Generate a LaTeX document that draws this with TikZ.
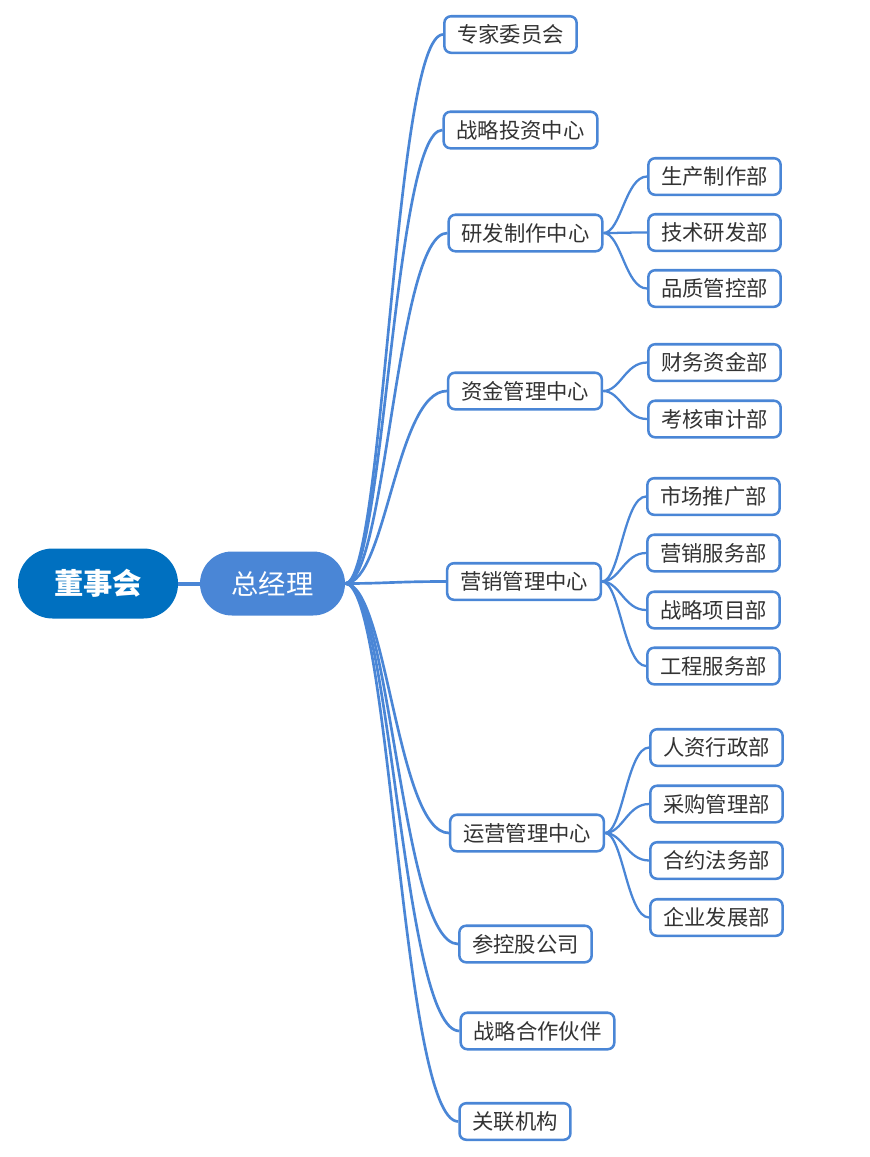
\documentclass[tikz,border=0pt]{standalone}
\usepackage{fontspec}
\newfontfamily\cn{Noto Sans CJK SC}
\usetikzlibrary{calc}
\definecolor{xanh}{HTML}{4A86D6}
\definecolor{xanhdam}{HTML}{0070C0}
\definecolor{chu}{HTML}{333333}
\tikzset{
	hop/.style={draw=xanh, line width=1.9pt, rounded corners=5pt, fill=white, text=chu,
		font=\cn\fontsize{16}{19}\selectfont, minimum height=27.4pt, inner xsep=9.6pt, inner ysep=0pt},
	nhanh/.style={draw=xanh, line width=2pt},
	la/.style={draw=xanh, line width=1.7pt}
}
\begin{document}
\begin{tikzpicture}[x=.75pt, y=-.75pt]
	\useasboundingbox (0,0) rectangle (870,1157);
	% goc
	\node[fill=xanhdam, text=white, rounded corners=26pt, minimum width=120pt, minimum height=52.5pt,
		font=\cn\bfseries\fontsize{22}{24}\selectfont] (dsh) at (98,583.5) {董事会};
	\node[fill=xanh, text=white, rounded corners=24pt, minimum width=108.75pt, minimum height=48pt,
		font=\cn\fontsize{20.5}{24}\selectfont] (zjl) at (272.5,583.5) {总经理};
	\draw[xanh, line width=3pt] (dsh.east)--(zjl.west);
	% cap 2
	\node[hop] (zj) at (510.5,34.5) {专家委员会};
	\node[hop] (tz) at (520.5,130) {战略投资中心};
	\node[hop] (yf) at (525.5,233) {研发制作中心};
	\node[hop] (zjin) at (525,391) {资金管理中心};
	\node[hop] (yx) at (524,581.5) {营销管理中心};
	\node[hop] (yy) at (527,833) {运营管理中心};
	\node[hop] (ck) at (525.5,944) {参控股公司};
	\node[hop] (hz) at (537.5,1031) {战略合作伙伴};
	\node[hop] (gl) at (515,1121.5) {关联机构};
	% cap 3
	\node[hop] (sc) at (714.5,176.5) {生产制作部};
	\node[hop] (js) at (714.5,232.5) {技术研发部};
	\node[hop] (pz) at (714.5,288.5) {品质管控部};
	\node[hop] (cw) at (714.5,362.5) {财务资金部};
	\node[hop] (kh) at (714.5,419) {考核审计部};
	\node[hop] (tg) at (713.5,496.5) {市场推广部};
	\node[hop] (fw) at (713.5,553) {营销服务部};
	\node[hop] (xm) at (713.5,610) {战略项目部};
	\node[hop] (gc) at (713.5,666) {工程服务部};
	\node[hop] (rz) at (716.5,747.5) {人资行政部};
	\node[hop] (cg) at (716.5,804) {采购管理部};
	\node[hop] (hy) at (716.5,860.5) {合约法务部};
	\node[hop] (qy) at (716.5,917.5) {企业发展部};
	% nhanh
	\foreach \c in {zj,tz,yf,zjin,yx,yy,ck,hz,gl}{
		\draw[nhanh] (zjl.east) .. controls ($(zjl.east)!.4!(zjl.east -| \c.west)$) and ($(zjl.east |- \c.west)!.5!(\c.west)$) .. (\c.west);
	}
	\foreach \p/\c in {yf/sc,yf/js,yf/pz,zjin/cw,zjin/kh,yx/tg,yx/fw,yx/xm,yx/gc,yy/rz,yy/cg,yy/hy,yy/qy}{
		\draw[la] (\p.east) .. controls ($(\p.east)!.4!(\p.east -| \c.west)$) and ($(\p.east |- \c.west)!.5!(\c.west)$) .. (\c.west);
	}
\end{tikzpicture}
\end{document}
